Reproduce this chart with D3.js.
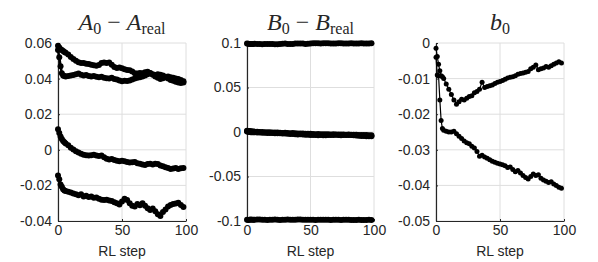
<!DOCTYPE html>
<html>
<head>
<meta charset="utf-8">
<title>RL step parameter errors</title>
<script src="https://d3js.org/d3.v7.min.js"></script>
<style>
  body { margin: 0; background: #fff; }
  text { font-family: "Liberation Sans", Arial, sans-serif; fill: #262626; }
  text.title { font-family: "Liberation Serif", "Times New Roman", serif; }
</style>
</head>
<body>
<div id="chart"></div>
<script>

var steps = [0,1,2,3,4,5,6,8,10,12,14,16,18,20,22,24,26,28,30,32,34,36,38,40,42,44,46,48,
             50,52,54,56,58,60,62,64,66,68,70,72,74,76,78,80,82,84,86,88,90,92,94,96,98];

// panel 1: A0 - Areal
var aUpper = [0.0585,0.0575,0.0565,0.0560,0.0555,0.0550,0.0545,0.0535,0.0522,0.0510,0.0500,0.0492,0.0488,0.0487,
              0.0484,0.0482,0.0478,0.0475,0.0472,0.0476,0.0488,0.0490,0.0487,0.0490,0.0478,0.0465,0.0460,0.0462,
              0.0458,0.0452,0.0448,0.0447,0.0440,0.0430,0.0428,0.0432,0.0430,0.0435,0.0438,0.0432,0.0425,0.0420,
              0.0425,0.0422,0.0418,0.0410,0.0412,0.0408,0.0405,0.0400,0.0398,0.0392,0.0385];
var aLower = [0.0560,0.0520,0.0470,0.0430,0.0418,0.0415,0.0412,0.0415,0.0418,0.0420,0.0425,0.0428,0.0422,0.0418,
              0.0420,0.0415,0.0412,0.0414,0.0410,0.0408,0.0410,0.0405,0.0402,0.0400,0.0405,0.0398,0.0395,0.0390,
              0.0385,0.0388,0.0386,0.0390,0.0395,0.0400,0.0405,0.0408,0.0412,0.0418,0.0425,0.0430,0.0422,0.0412,
              0.0405,0.0398,0.0402,0.0408,0.0400,0.0392,0.0388,0.0382,0.0378,0.0375,0.0378];
var aMid = [0.0115,0.0095,0.0075,0.0060,0.0050,0.0042,0.0035,0.0025,0.0012,0.0002,-0.0008,-0.0015,-0.0022,-0.0028,
            -0.0030,-0.0032,-0.0030,-0.0028,-0.0032,-0.0035,-0.0032,-0.0042,-0.0050,-0.0055,-0.0052,-0.0058,-0.0062,-0.0065,
            -0.0062,-0.0065,-0.0068,-0.0072,-0.0070,-0.0068,-0.0075,-0.0078,-0.0082,-0.0085,-0.0080,-0.0078,-0.0082,-0.0078,
            -0.0080,-0.0088,-0.0092,-0.0098,-0.0102,-0.0108,-0.0105,-0.0102,-0.0108,-0.0104,-0.0102];
var aBottom = [-0.0145,-0.0165,-0.0195,-0.0208,-0.0222,-0.0228,-0.0232,-0.0236,-0.0240,-0.0245,-0.0250,-0.0255,-0.0250,-0.0262,
               -0.0258,-0.0265,-0.0262,-0.0270,-0.0268,-0.0275,-0.0280,-0.0282,-0.0280,-0.0285,-0.0288,-0.0295,-0.0300,-0.0308,
               -0.0290,-0.0275,-0.0282,-0.0300,-0.0315,-0.0318,-0.0305,-0.0312,-0.0300,-0.0315,-0.0328,-0.0338,-0.0330,-0.0345,
               -0.0362,-0.0372,-0.0350,-0.0335,-0.0318,-0.0310,-0.0305,-0.0302,-0.0298,-0.0310,-0.0322];

// panel 2: B0 - Breal
var bTop = [0.0995,0.0992,0.0990,0.0990,0.0988,0.0990,0.0992,0.0990,0.0988,0.0985,0.0988,0.0990,0.0990,0.0988,
            0.0985,0.0985,0.0988,0.0992,0.0993,0.0990,0.0988,0.0990,0.0993,0.0995,0.0995,0.0993,0.0990,0.0992,
            0.0995,0.0997,0.0998,0.0997,0.0995,0.0996,0.0998,0.0997,0.0995,0.0994,0.0995,0.0996,0.0997,0.0995,
            0.0993,0.0994,0.0996,0.0995,0.0994,0.0995,0.0996,0.0995,0.0994,0.0995,0.0996];
var bMid1 = [0.0005,0.0002,0.0000,-0.0002,-0.0003,-0.0002,-0.0004,-0.0005,-0.0006,-0.0008,-0.0008,-0.0010,-0.0011,-0.0012,
             -0.0013,-0.0015,-0.0015,-0.0017,-0.0018,-0.0020,-0.0022,-0.0022,-0.0025,-0.0027,-0.0026,-0.0028,-0.0030,-0.0032,
             -0.0033,-0.0035,-0.0034,-0.0036,-0.0035,-0.0037,-0.0036,-0.0035,-0.0034,-0.0033,-0.0032,-0.0034,-0.0036,-0.0035,
             -0.0034,-0.0033,-0.0034,-0.0036,-0.0039,-0.0042,-0.0045,-0.0046,-0.0047,-0.0048,-0.0049];
var bMid2 = [0.0015,0.0012,0.0010,0.0008,0.0006,0.0005,0.0003,0.0002,0.0000,-0.0001,-0.0003,-0.0002,-0.0004,-0.0005,
             -0.0007,-0.0006,-0.0008,-0.0010,-0.0009,-0.0011,-0.0013,-0.0012,-0.0015,-0.0016,-0.0018,-0.0017,-0.0019,-0.0021,
             -0.0020,-0.0022,-0.0024,-0.0023,-0.0024,-0.0026,-0.0025,-0.0026,-0.0027,-0.0026,-0.0027,-0.0029,-0.0028,-0.0029,
             -0.0030,-0.0029,-0.0030,-0.0032,-0.0031,-0.0033,-0.0034,-0.0035,-0.0034,-0.0036,-0.0037];
var bBottom = [-0.0985,-0.0988,-0.0986,-0.0984,-0.0985,-0.0987,-0.0986,-0.0984,-0.0983,-0.0985,-0.0987,-0.0988,-0.0986,-0.0985,
               -0.0984,-0.0986,-0.0988,-0.0987,-0.0985,-0.0984,-0.0986,-0.0987,-0.0985,-0.0983,-0.0984,-0.0986,-0.0987,-0.0986,
               -0.0985,-0.0986,-0.0988,-0.0987,-0.0986,-0.0985,-0.0986,-0.0987,-0.0988,-0.0987,-0.0986,-0.0987,-0.0988,-0.0987,
               -0.0986,-0.0987,-0.0988,-0.0989,-0.0988,-0.0987,-0.0988,-0.0989,-0.0988,-0.0987,-0.0988];

// panel 3: b0
var b0Upper = [-0.0015,-0.0038,-0.0060,-0.0078,-0.0092,-0.0095,-0.0100,-0.0115,-0.0130,-0.0145,-0.0160,-0.0172,-0.0165,-0.0158,
               -0.0160,-0.0155,-0.0150,-0.0148,-0.0140,-0.0136,-0.0130,-0.0110,-0.0125,-0.0122,-0.0120,-0.0118,-0.0114,-0.0110,
               -0.0108,-0.0105,-0.0102,-0.0098,-0.0096,-0.0095,-0.0092,-0.0088,-0.0086,-0.0084,-0.0082,-0.0080,-0.0072,-0.0068,
               -0.0062,-0.0075,-0.0072,-0.0070,-0.0066,-0.0068,-0.0064,-0.0060,-0.0056,-0.0053,-0.0056];
var b0Lower = [-0.0040,-0.0090,-0.0092,-0.0160,-0.0218,-0.0240,-0.0245,-0.0248,-0.0250,-0.0250,-0.0248,-0.0255,-0.0262,-0.0268,
               -0.0275,-0.0280,-0.0283,-0.0290,-0.0295,-0.0305,-0.0318,-0.0315,-0.0320,-0.0324,-0.0328,-0.0332,-0.0335,-0.0338,
               -0.0340,-0.0342,-0.0345,-0.0350,-0.0348,-0.0355,-0.0362,-0.0358,-0.0365,-0.0372,-0.0378,-0.0382,-0.0375,-0.0368,
               -0.0372,-0.0370,-0.0380,-0.0385,-0.0388,-0.0392,-0.0390,-0.0396,-0.0400,-0.0405,-0.0408];

// tick values and labels
var xTicks = [0, 50, 100];
var aTicks = [-0.04, -0.02, 0, 0.02, 0.04, 0.06];
var aTickLabels = ["-0.04", "-0.02", "0", "0.02", "0.04", "0.06"];
var bTicks = [-0.1, -0.05, 0, 0.05, 0.1];
var bTickLabels = ["-0.1", "-0.05", "0", "0.05", "0.1"];
var b0Ticks = [-0.05, -0.04, -0.03, -0.02, -0.01, 0];
var b0TickLabels = ["-0.05", "-0.04", "-0.03", "-0.02", "-0.01", "0"];

var W = 598, H = 262;
var plotTop = 43, plotBottom = 221;

var svg = d3.select("#chart").append("svg")
    .attr("width", W)
    .attr("height", H);

var panels = [
  { left: 58,  right: 186, domain: [-0.04, 0.06], ticks: aTicks, labels: aTickLabels,
    series: [aUpper, aLower, aMid, aBottom], r: 3, lw: 2.5, title: ["A", "A"] },
  { left: 247, right: 374, domain: [-0.1, 0.1], ticks: bTicks, labels: bTickLabels,
    series: [bTop, bMid1, bMid2, bBottom], r: 3, lw: 3, title: ["B", "B"] },
  { left: 436, right: 564, domain: [-0.05, 0], ticks: b0Ticks, labels: b0TickLabels,
    series: [b0Upper, b0Lower], r: 2.5, lw: 1.2, title: null }
];

panels.forEach(function(p) {
  var x = d3.scaleLinear().domain([0, 100]).range([p.left, p.right]);
  var y = d3.scaleLinear().domain(p.domain).range([plotBottom, plotTop]);
  var g = svg.append("g");

  // grid
  g.selectAll(".gx").data(xTicks).enter().append("line")
      .attr("x1", function(d) { return x(d); }).attr("x2", function(d) { return x(d); })
      .attr("y1", plotTop).attr("y2", plotBottom)
      .attr("stroke", "#dedede").attr("stroke-width", 1);
  g.selectAll(".gy").data(p.ticks).enter().append("line")
      .attr("y1", function(d) { return y(d); }).attr("y2", function(d) { return y(d); })
      .attr("x1", p.left).attr("x2", p.right)
      .attr("stroke", "#dedede").attr("stroke-width", 1);

  // axes
  var ya = d3.axisLeft(y).tickValues(p.ticks)
      .tickFormat(function(d, i) { return p.labels[i]; })
      .tickSizeInner(-2).tickSizeOuter(0).tickPadding(6);
  var yg = g.append("g").attr("transform", "translate(" + p.left + ",0)").call(ya);
  var xa = d3.axisBottom(x).tickValues(xTicks).tickSizeInner(-2).tickSizeOuter(0).tickPadding(4);
  var xg = g.append("g").attr("transform", "translate(0," + plotBottom + ")").call(xa);
  [yg, xg].forEach(function(a) {
    a.select(".domain").attr("stroke", "#262626").attr("stroke-width", 1.2);
    a.selectAll(".tick line").attr("stroke", "#262626");
    a.selectAll("text").style("font-size", "14px")
      .style("font-family", "'Liberation Sans', Arial, sans-serif").attr("fill", "#262626");
  });

  // data
  p.series.forEach(function(vals) {
    var pts = steps.map(function(s, i) { return [s, vals[i]]; });
    g.append("path").datum(pts)
        .attr("d", d3.line().x(function(d) { return x(d[0]); }).y(function(d) { return y(d[1]); }))
        .attr("fill", "none").attr("stroke", "#000").attr("stroke-width", p.lw)
        .attr("stroke-linejoin", "round");
    g.selectAll(null).data(pts).enter().append("circle")
        .attr("cx", function(d) { return x(d[0]); })
        .attr("cy", function(d) { return y(d[1]); })
        .attr("r", p.r).attr("fill", "#000");
  });

  // x label
  g.append("text").attr("x", (p.left + p.right) / 2).attr("y", 256)
      .attr("text-anchor", "middle").style("font-size", "14px").text("RL step");

  // title
  var t = g.append("text").attr("class", "title")
      .attr("x", (p.left + p.right) / 2).attr("y", 30)
      .attr("text-anchor", "middle").style("font-size", "24px").attr("fill", "#000");
  if (p.title) {
    t.append("tspan").style("font-style", "italic").text(p.title[0]);
    t.append("tspan").attr("dy", 4).style("font-size", "16px").text("0");
    t.append("tspan").attr("dy", -4).text(" \u2212 ");
    t.append("tspan").style("font-style", "italic").text(p.title[1]);
    t.append("tspan").attr("dy", 4).style("font-size", "16px").text("real");
  } else {
    t.append("tspan").style("font-style", "italic").text("b");
    t.append("tspan").attr("dy", 4).style("font-size", "16px").text("0");
  }
});

</script>
</body>
</html>
